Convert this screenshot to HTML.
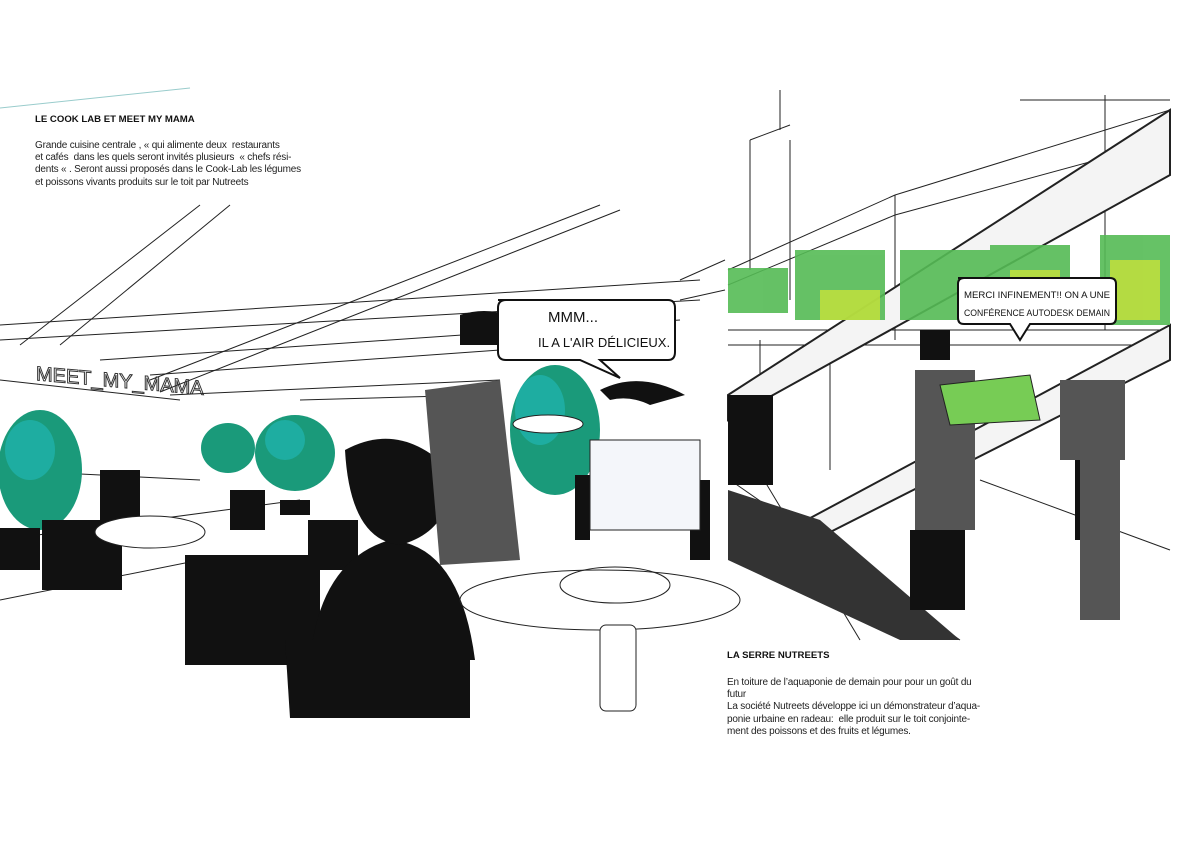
<!DOCTYPE html>
<html><head><meta charset="utf-8"><style>
body{margin:0;width:1191px;height:842px;background:#fff;position:relative;overflow:hidden;font-family:"Liberation Sans",sans-serif}
.t{position:absolute;font-size:10px;line-height:12.2px;color:#222;letter-spacing:-0.2px}
.h{font-weight:bold;font-size:9.6px;color:#111;position:absolute}
</style></head><body>
<svg width="1191" height="842" style="position:absolute;left:0;top:0">
<g stroke="#222" stroke-width="1" fill="none">
<line x1="0" y1="108" x2="190" y2="88" stroke="#9cc"/>
<line x1="20" y1="345" x2="200" y2="205"/><line x1="60" y1="345" x2="230" y2="205"/>
<line x1="150" y1="380" x2="600" y2="205"/><line x1="160" y1="392" x2="620" y2="210"/>
<line x1="0" y1="325" x2="700" y2="280"/><line x1="0" y1="340" x2="700" y2="300"/>
<line x1="100" y1="360" x2="680" y2="320"/><line x1="150" y1="375" x2="500" y2="350"/>
<line x1="170" y1="395" x2="500" y2="380"/><line x1="300" y1="400" x2="480" y2="395"/>
<line x1="0" y1="380" x2="180" y2="400"/><line x1="0" y1="470" x2="200" y2="480"/>
<line x1="680" y1="280" x2="725" y2="260"/><line x1="680" y1="300" x2="725" y2="290"/>
<line x1="0" y1="540" x2="300" y2="500"/><line x1="0" y1="600" x2="200" y2="560"/>
<line x1="728" y1="270" x2="895" y2="195"/><line x1="895" y1="195" x2="1170" y2="110"/>
<line x1="895" y1="215" x2="1170" y2="140"/><line x1="728" y1="285" x2="895" y2="215"/>
<line x1="895" y1="195" x2="895" y2="340"/><line x1="790" y1="200" x2="790" y2="300"/>
<line x1="1105" y1="95" x2="1105" y2="330"/><line x1="1020" y1="100" x2="1170" y2="100"/>
<line x1="750" y1="140" x2="750" y2="270"/><line x1="790" y1="140" x2="790" y2="200"/>
<line x1="750" y1="140" x2="790" y2="125"/><line x1="728" y1="330" x2="1170" y2="330"/>
<line x1="728" y1="345" x2="1170" y2="345"/><line x1="730" y1="480" x2="960" y2="640"/>
<line x1="980" y1="480" x2="1170" y2="550"/><line x1="728" y1="420" x2="860" y2="640"/>
<line x1="780" y1="90" x2="780" y2="130"/><line x1="760" y1="340" x2="760" y2="480"/>
<line x1="830" y1="350" x2="830" y2="470"/>
</g>
<g stroke="#222" stroke-width="2" fill="#f4f4f4">
<polygon points="728,395 1170,110 1170,175 728,420"/>
<polygon points="760,545 1170,325 1170,360 775,560"/>
</g>
<g fill="#333"><polygon points="728,490 820,520 960,640 900,640 728,560"/></g>
<g fill="#5b5" opacity="0.9">
<rect x="728" y="268" width="60" height="45"/><rect x="795" y="250" width="90" height="70"/>
<rect x="900" y="250" width="90" height="70"/><rect x="990" y="245" width="80" height="60"/>
<rect x="1100" y="235" width="70" height="90"/>
</g>
<g fill="#c8e23a" opacity="0.8"><rect x="820" y="290" width="60" height="30"/><rect x="1110" y="260" width="50" height="60"/><rect x="1010" y="270" width="50" height="30"/></g>
<g fill="#1a9a7a">
<ellipse cx="40" cy="470" rx="42" ry="60"/><ellipse cx="228" cy="448" rx="27" ry="25"/>
<ellipse cx="295" cy="453" rx="40" ry="38"/><ellipse cx="555" cy="430" rx="45" ry="65"/>
</g>
<g fill="#2bb" opacity="0.6"><ellipse cx="30" cy="450" rx="25" ry="30"/><ellipse cx="285" cy="440" rx="20" ry="20"/><ellipse cx="540" cy="410" rx="25" ry="35"/></g>
<text x="36" y="382" font-family="Liberation Sans" font-size="20" fill="none" stroke="#333" transform="skewY(5) translate(0,-5)">MEET_MY_MAMA</text>
<g fill="#111">
<rect x="0" y="528" width="40" height="42"/>
<rect x="42" y="520" width="80" height="70"/><rect x="100" y="470" width="40" height="50"/>
<rect x="185" y="555" width="135" height="110"/><rect x="308" y="520" width="50" height="50"/>
<rect x="280" y="500" width="30" height="15"/><rect x="230" y="490" width="35" height="40"/>
<path d="M310 660 Q320 560 390 540 Q460 545 475 660 Z"/>
<path d="M345 450 Q400 420 450 470 Q455 530 400 545 Q350 540 345 450Z"/>
<path d="M285 640 L470 640 L470 718 L290 718 Z"/>
<path d="M460 315 Q490 305 520 320 L520 345 L460 345Z"/>
<path d="M600 390 Q640 370 685 395 L650 405 Q630 395 610 400Z"/>
<rect x="632" y="505" width="30" height="25"/><rect x="690" y="480" width="20" height="80"/>
<rect x="575" y="475" width="15" height="65"/>
<rect x="728" y="395" width="45" height="90"/><rect x="920" y="330" width="30" height="30"/>
<rect x="910" y="530" width="55" height="80"/><rect x="1075" y="460" width="25" height="80"/>
</g>
<g fill="#555"><path d="M425 390 L500 380 L520 560 L440 565Z"/><rect x="915" y="370" width="60" height="160"/><rect x="1060" y="380" width="65" height="80"/><rect x="1080" y="460" width="40" height="160"/></g>
<g fill="#fff" stroke="#222"><rect x="590" y="440" width="110" height="90" fill="#f4f6fa"/><ellipse cx="615" cy="585" rx="55" ry="18"/><ellipse cx="600" cy="600" rx="140" ry="30" fill="none"/><rect x="600" y="625" width="36" height="86" rx="6"/><ellipse cx="150" cy="532" rx="55" ry="16"/><ellipse cx="548" cy="424" rx="35" ry="9"/><path d="M940 385 L1030 375 L1040 420 L950 425Z" fill="#7c5"/></g>
<g fill="#fff" stroke="#111" stroke-width="2">
<path d="M498 300 H668 Q675 300 675 308 V352 Q675 360 668 360 H600 L620 378 L580 360 H506 Q498 360 498 352 V308 Q498 300 506 300Z"/>
<path d="M958 278 H1110 Q1116 278 1116 284 V318 Q1116 324 1110 324 H1030 L1020 340 L1010 324 H964 Q958 324 958 318 V284 Q958 278 964 278Z"/>
</g>
<g font-family="Liberation Sans" fill="#111">
<text x="548" y="322" font-size="15">MMM...</text>
<text x="538" y="347" font-size="13">IL A L'AIR DÉLICIEUX.</text>
<text x="964" y="298" font-size="9.5" textLength="146" lengthAdjust="spacingAndGlyphs">MERCI INFINEMENT!! ON A UNE</text>
<text x="964" y="316" font-size="9.5" textLength="146" lengthAdjust="spacingAndGlyphs">CONFÉRENCE AUTODESK DEMAIN</text>
</g>
</svg>
<div class="h" style="left:35px;top:114px">LE COOK LAB ET MEET MY MAMA</div>
<div class="t" style="left:35px;top:140px;width:290px">Grande cuisine centrale , « qui alimente deux &nbsp;restaurants<br>et cafés &nbsp;dans les quels seront invités plusieurs &nbsp;« chefs rési-<br>dents « . Seront aussi proposés dans le Cook-Lab les légumes<br>et poissons vivants produits sur le toit par Nutreets</div>
<div class="h" style="left:727px;top:650px">LA SERRE NUTREETS</div>
<div class="t" style="left:727px;top:677px;width:290px">En toiture de l’aquaponie de demain pour pour un goût du<br>futur<br>La société Nutreets développe ici un démonstrateur d’aqua-<br>ponie urbaine en radeau: &nbsp;elle produit sur le toit conjointe-<br>ment des poissons et des fruits et légumes.</div>
</body></html>
